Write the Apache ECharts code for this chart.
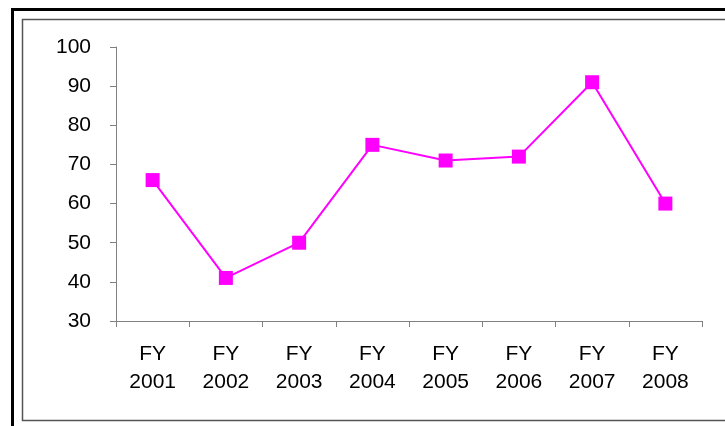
<!DOCTYPE html>
<html>
<head>
<meta charset="utf-8">
<style>
  html, body { margin: 0; padding: 0; background: #fff; }
  #chart { width: 725px; height: 426px; }
</style>
<script src="https://cdn.jsdelivr.net/npm/echarts@6/dist/echarts.min.js"></script>
</head>
<body>
<div id="chart"></div>
<script>
const years = ["FY\n2001", "FY\n2002", "FY\n2003", "FY\n2004", "FY\n2005", "FY\n2006", "FY\n2007", "FY\n2008"];
const values = [66, 41, 50, 75, 71, 72, 91, 60];

const chart = echarts.init(document.getElementById("chart"));
const axisColor = "#808080";
const font = "Liberation Sans, Arial, sans-serif";

chart.setOption({
  animation: false,
  graphic: [
    {
      type: "rect",
      shape: { x: 12.5, y: 9.5, width: 740, height: 440 },
      style: { fill: null, stroke: "#000", lineWidth: 3 },
    },
    {
      type: "rect",
      shape: { x: 22.5, y: 19.5, width: 740, height: 401 },
      style: { fill: null, stroke: "#555", lineWidth: 1.5 },
    },
  ],
  grid: { left: 116, right: 23, top: 47, bottom: 105 },
  xAxis: {
    type: "category",
    data: years,
    boundaryGap: true,
    axisLine: { lineStyle: { color: axisColor, width: 1 } },
    axisTick: { show: true, length: 6, lineStyle: { color: axisColor } },
    axisLabel: { color: "#000", fontFamily: font, fontSize: 21, lineHeight: 28, margin: 19 },
  },
  yAxis: {
    type: "value",
    min: 30,
    max: 100,
    interval: 10,
    axisLine: { show: true, lineStyle: { color: axisColor, width: 1 } },
    axisTick: { show: true, inside: false, length: 6, lineStyle: { color: axisColor } },
    axisLabel: { color: "#000", fontFamily: font, fontSize: 21, margin: 25 },
    splitLine: { show: false },
  },
  series: [
    {
      type: "line",
      data: values,
      symbol: "rect",
      symbolSize: 14,
      lineStyle: { color: "#ff00ff", width: 2 },
      itemStyle: { color: "#ff00ff" },
    },
  ],
});
</script>
</body>
</html>
